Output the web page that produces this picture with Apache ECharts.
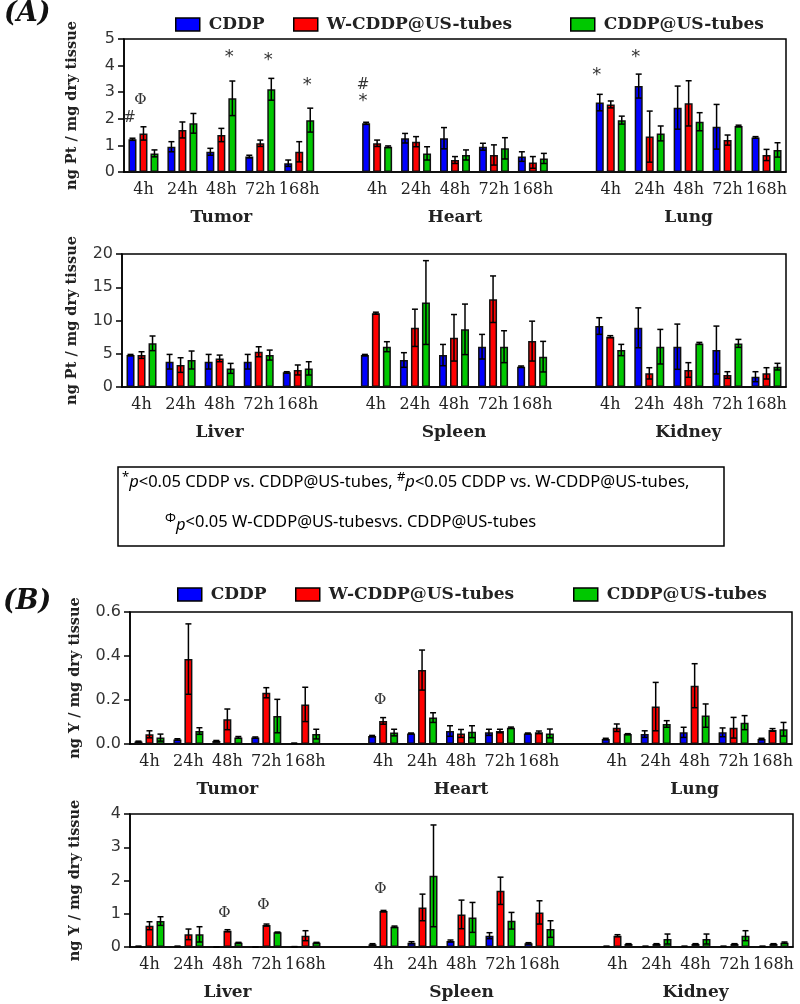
<!DOCTYPE html>
<html><head><meta charset="utf-8">
<script src="https://cdn.jsdelivr.net/npm/echarts@6/dist/echarts.min.js"></script>
<style>html,body{margin:0;padding:0;background:#fff}#c{width:800px;height:1004px}</style>
</head><body><div id="c"></div>
<script>
// ---------- data ----------
const timepoints = ['4h', '24h', '48h', '72h', '168h'];
const organsTop = ['Tumor', 'Heart', 'Lung'];
const organsBottom = ['Liver', 'Spleen', 'Kidney'];
const seriesNames = ['CDDP', 'W-CDDP@US-tubes', 'CDDP@US-tubes'];
const seriesColors = ['#0000ff', '#ff0000', '#00c800'];
const markSymbols = ['*', '#', 'Φ'];

// (A) Pt, top row: Tumor, Heart, Lung (each 4h,24h,48h,72h,168h)
const ptTopCDDP    = [1.23, 0.95, 0.76, 0.58, 0.33, 1.83, 1.27, 1.27, 0.95, 0.58, 2.61, 3.23, 2.42, 1.70, 1.30];
const ptTopCDDPsd  = [0.04, 0.19, 0.13, 0.05, 0.12, 0.04, 0.18, 0.40, 0.13, 0.18, 0.31, 0.45, 0.81, 0.84, 0.03];
const ptTopW       = [1.45, 1.58, 1.39, 1.08, 0.76, 1.08, 1.14, 0.45, 0.64, 0.36, 2.54, 1.33, 2.58, 1.20, 0.64];
const ptTopWsd     = [0.25, 0.30, 0.25, 0.12, 0.38, 0.12, 0.19, 0.13, 0.38, 0.22, 0.13, 0.96, 0.85, 0.19, 0.21];
const ptTopUS      = [0.70, 1.83, 2.77, 3.11, 1.95, 0.95, 0.70, 0.64, 0.89, 0.51, 1.95, 1.45, 1.89, 1.73, 0.83];
const ptTopUSsd    = [0.13, 0.37, 0.65, 0.41, 0.45, 0.03, 0.25, 0.19, 0.40, 0.19, 0.15, 0.28, 0.34, 0.03, 0.27];
// marks: [timepoint index 0-14, bar index, y value, symbol index]
const ptTopMarks   = [[0, 0, 2.03, 1], [0, 1, 2.7, 2], [2, 2, 4.3, 0], [3, 2, 4.2, 0], [4, 2, 3.27, 0],
                      [5, 0, 3.27, 1], [5, 0, 2.64, 0], [10, 0, 3.65, 0], [11, 0, 4.32, 0]];

// (A) Pt, bottom row: Liver, Spleen, Kidney
const ptBotCDDP    = [4.8, 3.8, 3.8, 3.8, 2.2, 4.8, 4.06, 4.8, 6.06, 3.06, 9.17, 8.9, 6.06, 5.56, 1.55];
const ptBotCDDPsd  = [0.1, 1.1, 1.1, 1.1, 0.1, 0.1, 1.1, 1.6, 1.85, 0.1, 1.25, 3.0, 3.4, 3.6, 0.75];
const ptBotW       = [4.8, 3.3, 4.3, 5.3, 2.56, 11.1, 8.9, 7.4, 13.2, 6.9, 7.57, 2.05, 2.56, 1.8, 2.05];
const ptBotWsd     = [0.5, 1.1, 0.5, 0.75, 0.75, 0.15, 2.8, 3.5, 3.5, 3.0, 0.15, 0.85, 1.1, 0.5, 0.85];
const ptBotUS      = [6.57, 4.06, 2.8, 4.8, 2.8, 6.06, 12.7, 8.67, 6.06, 4.56, 5.56, 6.06, 6.56, 6.56, 3.06];
const ptBotUSsd    = [1.1, 1.35, 0.75, 0.75, 1.0, 0.75, 6.3, 3.8, 2.4, 2.3, 0.85, 2.6, 0.15, 0.6, 0.5];
const ptBotMarks   = [];

// (B) Y, top row: Tumor, Heart, Lung
const yTopCDDP     = [0.011, 0.021, 0.014, 0.029, 0.003, 0.036, 0.048, 0.059, 0.053, 0.048, 0.023, 0.045, 0.053, 0.053, 0.023];
const yTopCDDPsd   = [0.002, 0.003, 0.002, 0.003, 0.001, 0.003, 0.002, 0.024, 0.014, 0.002, 0.003, 0.015, 0.023, 0.020, 0.003];
const yTopW        = [0.044, 0.386, 0.112, 0.233, 0.180, 0.105, 0.336, 0.048, 0.059, 0.053, 0.074, 0.170, 0.265, 0.074, 0.064];
const yTopWsd      = [0.016, 0.160, 0.047, 0.023, 0.078, 0.015, 0.091, 0.018, 0.008, 0.006, 0.017, 0.110, 0.100, 0.047, 0.006];
const yTopUS       = [0.029, 0.059, 0.030, 0.127, 0.045, 0.052, 0.120, 0.056, 0.074, 0.048, 0.045, 0.091, 0.129, 0.097, 0.067];
const yTopUSsd     = [0.016, 0.015, 0.004, 0.076, 0.022, 0.015, 0.022, 0.027, 0.003, 0.020, 0.002, 0.015, 0.053, 0.032, 0.031];
const yTopMarks    = [[5, 1, 0.2, 2]];

// (B) Y, bottom row: Liver, Spleen, Kidney
const yBotCDDP     = [0.02, 0.02, 0.0, 0.0, 0.01, 0.08, 0.13, 0.18, 0.34, 0.11, 0.02, 0.02, 0.02, 0.02, 0.02];
const yBotCDDPsd   = [0, 0, 0, 0, 0, 0.02, 0.03, 0.03, 0.09, 0.02, 0, 0, 0, 0, 0];
const yBotW        = [0.64, 0.38, 0.49, 0.66, 0.34, 1.08, 1.19, 0.98, 1.69, 1.04, 0.34, 0.09, 0.09, 0.09, 0.09];
const yBotWsd      = [0.12, 0.16, 0.03, 0.03, 0.15, 0.02, 0.40, 0.43, 0.41, 0.35, 0.03, 0.01, 0.01, 0.01, 0.01];
const yBotUS       = [0.78, 0.38, 0.13, 0.44, 0.13, 0.61, 2.14, 0.89, 0.79, 0.54, 0.09, 0.24, 0.24, 0.34, 0.13];
const yBotUSsd     = [0.13, 0.23, 0.01, 0.01, 0.01, 0.02, 1.53, 0.45, 0.25, 0.25, 0.01, 0.15, 0.15, 0.15, 0.02];
const yBotMarks    = [[2, 1, 1.01, 2], [3, 1, 1.26, 2], [5, 1, 1.73, 2]];

// y axes
const ptTopTicks = {min: 0, max: 5, interval: 1};
const ptBotTicks = {min: 0, max: 20, interval: 5};
const yTopTicks  = {min: 0, max: 0.6, interval: 0.2};
const yBotTicks  = {min: 0, max: 4, interval: 1};

// ---------- build ----------
const BAR_W = 8, BAR_PITCH = 11;
function catIndex(i) { return i + Math.floor(i / 5); }
function expand(arr) { const out = []; arr.forEach((v, i) => { if (i > 0 && i % 5 === 0) out.push('-'); out.push(v); }); return out; }
function categories() { return [].concat(timepoints, [''], timepoints, [''], timepoints); }
function organAxis(organs) { const out = new Array(17).fill(''); organs.forEach((o, k) => { out[k * 6 + 2] = o; }); return out; }

const panels = [
  {grid: {left: 124, top: 39, width: 662, height: 133}, organs: organsTop, ticks: ptTopTicks, name: 'ng Pt / mg dry tissue', nameGap: 44, dec: 0,
   means: [ptTopCDDP, ptTopW, ptTopUS], sds: [ptTopCDDPsd, ptTopWsd, ptTopUSsd], marks: ptTopMarks},
  {grid: {left: 122, top: 254, width: 664, height: 133}, organs: organsBottom, ticks: ptBotTicks, name: 'ng Pt / mg dry tissue', nameGap: 42, dec: 0,
   means: [ptBotCDDP, ptBotW, ptBotUS], sds: [ptBotCDDPsd, ptBotWsd, ptBotUSsd], marks: ptBotMarks},
  {grid: {left: 130, top: 612, width: 662, height: 132}, organs: organsTop, ticks: yTopTicks, name: 'ng Y / mg dry tissue', nameGap: 47, dec: 1,
   means: [yTopCDDP, yTopW, yTopUS], sds: [yTopCDDPsd, yTopWsd, yTopUSsd], marks: yTopMarks},
  {grid: {left: 130, top: 814, width: 663, height: 133}, organs: organsBottom, ticks: yBotTicks, name: 'ng Y / mg dry tissue', nameGap: 47, dec: 0,
   means: [yBotCDDP, yBotW, yBotUS], sds: [yBotCDDPsd, yBotWsd, yBotUSsd], marks: yBotMarks}
];

const grid = [], xAxis = [], yAxis = [], series = [];
panels.forEach((p, k) => {
  grid.push(Object.assign({show: true, borderColor: '#000', borderWidth: 1.5, backgroundColor: 'transparent'}, p.grid));
  xAxis.push({type: 'category', gridIndex: k, data: categories(), boundaryGap: true,
    axisLine: {lineStyle: {color: '#000', width: 1.5}},
    axisTick: {alignWithLabel: true, interval: 0, length: 5, lineStyle: {color: '#000', width: 1.5}},
    axisLabel: {interval: 0, margin: 10, color: '#222', fontFamily: 'DejaVu Serif', fontSize: 16},
    splitLine: {show: false}});
  xAxis.push({type: 'category', gridIndex: k, position: 'bottom', data: organAxis(p.organs), boundaryGap: true,
    axisLine: {show: false}, axisTick: {show: false},
    axisLabel: {interval: 0, margin: 37, color: '#222', fontFamily: 'DejaVu Serif', fontWeight: 'bold', fontSize: 17},
    splitLine: {show: false}});
  yAxis.push({type: 'value', gridIndex: k, min: p.ticks.min, max: p.ticks.max, interval: p.ticks.interval,
    name: p.name, nameLocation: 'middle', nameGap: p.nameGap, nameRotate: 90,
    nameTextStyle: {fontFamily: 'DejaVu Serif', fontWeight: 'bold', fontSize: 14.5, color: '#222'},
    axisLine: {show: true, lineStyle: {color: '#000', width: 1.5}},
    axisTick: {show: true, length: 6, lineStyle: {color: '#000', width: 1.5}},
    axisLabel: {margin: 9, color: '#333', fontFamily: 'DejaVu Sans', fontSize: 16,
      formatter: v => v.toFixed(p.dec)},
    splitLine: {show: false}});
  const xi = k * 2;
  p.means.forEach((m, s) => {
    series.push({type: 'bar', name: seriesNames[s], xAxisIndex: xi, yAxisIndex: k, data: expand(m),
      barWidth: BAR_W, barGap: '37.5%', z: 2,
      itemStyle: {color: seriesColors[s], borderColor: '#111', borderWidth: 1.5}});
  });
  const errData = [];
  p.means.forEach((m, s) => m.forEach((v, i) => errData.push([catIndex(i), s, v, p.sds[s][i]])));
  series.push({type: 'custom', xAxisIndex: xi, yAxisIndex: k, z: 5, data: errData, encode: {x: 0, y: 2}, silent: true,
    renderItem: function (params, api) {
      const cat = api.value(0), s = api.value(1), m = api.value(2), sd = api.value(3);
      const x = api.coord([cat, m])[0] + (s - 1) * BAR_PITCH;
      const yt = api.coord([cat, m + sd])[1];
      const yb = api.coord([cat, Math.max(m - sd, 0)])[1];
      const st = {stroke: '#000', lineWidth: 1.5};
      return {type: 'group', children: [
        {type: 'line', shape: {x1: x, y1: yt, x2: x, y2: yb}, style: st},
        {type: 'line', shape: {x1: x - 3, y1: yt, x2: x + 3, y2: yt}, style: st},
        {type: 'line', shape: {x1: x - 3, y1: yb, x2: x + 3, y2: yb}, style: st}]};
    }});
  if (p.marks.length) {
    series.push({type: 'custom', xAxisIndex: xi, yAxisIndex: k, z: 6, silent: true,
      data: p.marks.map(mk => [catIndex(mk[0]), mk[2], mk[1], mk[3]]), encode: {x: 0, y: 1},
      renderItem: function (params, api) {
        const pt = api.coord([api.value(0), api.value(1)]);
        const sym = markSymbols[api.value(3)];
        return {type: 'text', x: pt[0] + (api.value(2) - 1) * BAR_PITCH - 3, y: pt[1],
          style: {text: sym, fill: '#333', fontSize: sym === '*' ? 18 : 15,
            fontFamily: sym === 'Φ' ? 'DejaVu Serif' : 'DejaVu Sans', align: 'center', verticalAlign: 'middle'}};
      }});
  }
});

function legendAt(name, left, top) {
  return {data: [name], left: left, top: top, icon: 'rect', itemWidth: 24, itemHeight: 13, itemGap: 0,
    itemStyle: {borderColor: '#000', borderWidth: 1.5},
    textStyle: {fontFamily: 'DejaVu Serif', fontWeight: 'bold', fontSize: 17, color: '#222', padding: [0, 0, 0, 4]}};
}
const legend = [
  legendAt(seriesNames[0], 170, 11), legendAt(seriesNames[1], 288, 11), legendAt(seriesNames[2], 565, 11),
  legendAt(seriesNames[0], 172, 581), legendAt(seriesNames[1], 290, 581), legendAt(seriesNames[2], 568, 581)
];

const noteRich = {
  t: {fontFamily: 'Noto Sans', fontSize: 16.5, color: '#222', lineHeight: 22},
  i: {fontFamily: 'Noto Sans', fontStyle: 'italic', fontSize: 16.5, color: '#222', lineHeight: 22},
  sup: {fontFamily: 'Noto Sans', fontSize: 13, color: '#222', lineHeight: 22, verticalAlign: 'top'},
  sub: {fontFamily: 'Noto Sans', fontStyle: 'italic', fontSize: 16.5, color: '#222', lineHeight: 22, padding: [6, 0, 0, 0]}
};

const graphic = [
  {type: 'text', left: 4, top: 0, style: {text: '(A)', font: 'italic bold 27px "DejaVu Serif"', fill: '#111'}},
  {type: 'text', left: 3, top: 588, style: {text: '(B)', font: 'italic bold 27px "DejaVu Serif"', fill: '#111'}},
  {type: 'rect', shape: {x: 118, y: 467, width: 606, height: 79}, style: {fill: 'none', stroke: '#000', lineWidth: 1.5}},
  {type: 'text', left: 122, top: 471, style: {rich: noteRich,
    text: '{sup|*}{i|p}{t|<0.05 CDDP vs. CDDP@US-tubes, }{sup|#}{i|p}{t|<0.05 CDDP vs. W-CDDP@US-tubes,}'}},
  {type: 'text', left: 165, top: 511, style: {rich: noteRich,
    text: '{sup|Φ}{sub|p}{t|<0.05 W-CDDP@US-tubesvs. CDDP@US-tubes}'}}
];

const chart = echarts.init(document.getElementById('c'), null, {renderer: 'canvas'});
chart.setOption({animation: false, backgroundColor: '#fff', grid, xAxis, yAxis, series, legend, graphic});
</script></body></html>
